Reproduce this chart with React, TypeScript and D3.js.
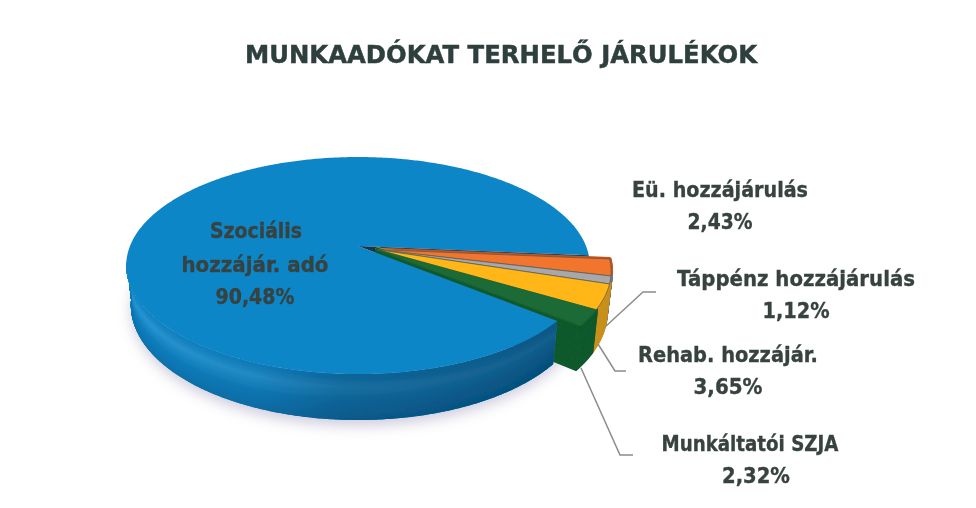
import React from 'react';
import * as d3 from 'd3';

const W = 976;
const H = 508;

// slice order is clockwise, starting just below the right horizontal
const categories = ['Eü. hozzájárulás', 'Táppénz hozzájárulás', 'Rehab. hozzájár.', 'Munkáltatói SZJA', 'Szociális hozzájár. adó'];
const shares = [2.43, 1.12, 3.65, 2.32, 90.48];
const shareLabels = ['2,43%', '1,12%', '3,65%', '2,32%', '90,48%'];
const topColors = ['#f2752f', '#a8a8ac', '#ffb612', '#1c6a36', '#0e86c8'];
const sideColors = ['#c4521f', '#77777c', '#c8901c', '#125a2d', '#0b6ea8'];

const TITLE = 'MUNKAADÓKAT TERHELŐ JÁRULÉKOK';
const FONT = '"DejaVu Sans", sans-serif';
const TEXT = '#37423f';
const LEADER = '#8c8c8c';

// perspective disc: apex of the pie, scales and tilt
const cx = 358;
const cy = 246;
const sx = 228;
const sy = 105;
const tilt = 0.18;
const START = (95 * Math.PI) / 180;
const EXPLODE = 0.09;

type Pt = [number, number];

// a: d3 pie angle, r: disc radius, t: 0 top face .. 1 bottom face
function project(a: number, r = 1, t = 0, off: Pt = [0, 0]): Pt {
    const X = r * Math.sin(a) + off[0];
    const Y = -r * Math.cos(a) + off[1];
    const w = 1 - tilt * Y;
    return [cx + ((sx * X) / w) * (1 - 0.02 * t), cy + (sy * Y) / w + t * (38 + 8 * Y)];
}

const line = d3.line<Pt>();

function arcPoints(a0: number, a1: number, t = 0, off: Pt = [0, 0]): Pt[] {
    const n = Math.max(2, Math.ceil(Math.abs(a1 - a0) / 0.01));
    return d3.range(n + 1).map((i) => project(a0 + ((a1 - a0) * i) / n, 1, t, off));
}

function wedge(a0: number, a1: number, t = 0, off: Pt = [0, 0]): string {
    return line([project(0, 0, t, off), ...arcPoints(a0, a1, t, off)]) + 'Z';
}

const arcs = d3
    .pie<number>()
    .sort(null)
    .startAngle(START)
    .endAngle(START + 2 * Math.PI)(shares);

const smallArcs = arcs.slice(0, 4);
const main = arcs[4];
const groupMid = (smallArcs[0].startAngle + smallArcs[3].endAngle) / 2;
const offset: Pt = [EXPLODE * Math.sin(groupMid), -EXPLODE * Math.cos(groupMid)];

const steps = d3.range(0, 1.001, 0.025);

// bevel highlight just below the rim, then darker toward the bottom
const bevel = d3
    .scaleLinear<string>()
    .domain([0, 0.1, 0.3, 0.65, 1])
    .range(['#0e86c8', '#1686c6', '#2896d3', '#0f7fbf', '#0a74b0']);

// visible rim of the big slice runs from its start edge round to the left extreme
const rimStart = main.startAngle;
const rimEnd = (262 * Math.PI) / 180;

const rimOutline =
    line([...arcPoints(rimStart, rimEnd, 0), ...arcPoints(rimStart, rimEnd, 1).reverse()]) + 'Z';

const labels = [
    { name: categories[0], share: shareLabels[0], nameX: 720, shareX: 720, y: 197, w: 176, sw: 65 },
    { name: categories[1], share: shareLabels[1], nameX: 796, shareX: 796, y: 286, w: 238, sw: 67 },
    { name: categories[2], share: shareLabels[2], nameX: 728, shareX: 728, y: 362, w: 180, sw: 69 },
    { name: categories[3], share: shareLabels[3], nameX: 750, shareX: 756, y: 451, w: 177, sw: 68 },
];

// leader lines, attached to the rim of each slice and ending next to its label
const leaders: Pt[][] = [
    [[605, 327], [643, 292], [656, 292]],
    [[598, 344], [615, 371], [626, 371]],
    [[581, 368], [620, 455], [633, 455]],
];

const Label = ({ x, y, w, children }: any) => (
    <text
        x={x}
        y={y}
        textAnchor="middle"
        fontFamily={FONT}
        fontWeight="bold"
        fontSize={21}
        fill={TEXT}
        stroke={TEXT}
        strokeWidth={0.35}
        textLength={w}
        lengthAdjust="spacingAndGlyphs"
    >
        {children}
    </text>
);

export default function App() {
    return (
        <svg
            width={W}
            height={H}
            viewBox={`0 0 ${W} ${H}`}
            style={{ position: 'absolute', left: 0, top: 0, background: '#fff' }}
        >
            <defs>
                <filter id="shadow" x="-20%" y="-20%" width="140%" height="140%">
                    <feGaussianBlur stdDeviation="7" />
                </filter>
                <filter id="soft">
                    <feGaussianBlur stdDeviation="0.7" />
                </filter>
                <filter id="softText" x="-5%" y="-20%" width="110%" height="140%">
                    <feGaussianBlur stdDeviation="0.35" />
                </filter>
                <clipPath id="rimClip">
                    <path d={rimOutline} />
                </clipPath>
                <linearGradient id="rimShade" gradientUnits="userSpaceOnUse" x1="125" x2="560" y1="0" y2="0">
                    <stop offset="0" stopColor="#02304f" stopOpacity="0" />
                    <stop offset="0.3" stopColor="#02304f" stopOpacity="0.12" />
                    <stop offset="0.5" stopColor="#02304f" stopOpacity="0.38" />
                    <stop offset="1" stopColor="#02304f" stopOpacity="0.55" />
                </linearGradient>
            </defs>

            <path
                d={line(arcPoints(0, 2 * Math.PI, 1.12)) + 'Z'}
                fill="#bdb9d0"
                opacity={0.75}
                filter="url(#shadow)"
            />

            <g filter="url(#soft)">
                {/* the notch left by the pulled-out slices */}
                <path d={wedge(smallArcs[0].startAngle, smallArcs[3].endAngle)} fill="#12364a" />

                {smallArcs.map((d, i) => (
                    <g key={categories[i]}>
                        {steps
                            .slice()
                            .reverse()
                            .map((t) => (
                                <path
                                    key={t}
                                    d={wedge(d.startAngle, d.endAngle, t, offset)}
                                    fill={sideColors[i]}
                                    stroke={sideColors[i]}
                                    strokeWidth={4}
                                    strokeLinejoin="round"
                                />
                            ))}
                    </g>
                ))}
                {smallArcs.map((d, i) => (
                    <path
                        key={categories[i]}
                        d={wedge(d.startAngle, d.endAngle, 0, offset)}
                        fill={topColors[i]}
                        stroke={i === 3 ? topColors[i] : '#5a5a48'}
                        strokeWidth={0.7}
                        strokeLinejoin="round"
                    />
                ))}

                <g clipPath="url(#rimClip)">
                    {steps.map((t) => (
                        <path
                            key={t}
                            d={line(arcPoints(rimStart, rimEnd, t)) as string}
                            fill="none"
                            stroke={bevel(t)}
                            strokeWidth={2.5}
                        />
                    ))}
                </g>
                <path d={rimOutline} fill="url(#rimShade)" />
                <path d={wedge(main.startAngle, main.endAngle)} fill={topColors[4]} />
            </g>

            {leaders.map((pts, i) => (
                <path key={i} d={line(pts) as string} fill="none" stroke={LEADER} strokeWidth={1.5} />
            ))}

            <g filter="url(#softText)">
                <text
                    x={501}
                    y={63}
                    textAnchor="middle"
                    fontFamily={FONT}
                    fontWeight="bold"
                    fontSize={25.5}
                    fill="#2f3f3d"
                    stroke="#2f3f3d"
                    strokeWidth={0.5}
                    textLength={512}
                    lengthAdjust="spacingAndGlyphs"
                >
                    {TITLE}
                </text>

                {labels.map((l) => (
                    <g key={l.share}>
                        <Label x={l.nameX} y={l.y} w={l.w}>{l.name}</Label>
                        <Label x={l.shareX} y={l.y + 32} w={l.sw}>{l.share}</Label>
                    </g>
                ))}

                <Label x={256} y={238} w={92}>Szociális</Label>
                <Label x={255} y={272} w={147}>hozzájár. adó</Label>
                <Label x={255} y={304} w={79}>{shareLabels[4]}</Label>
            </g>
        </svg>
    );
}
